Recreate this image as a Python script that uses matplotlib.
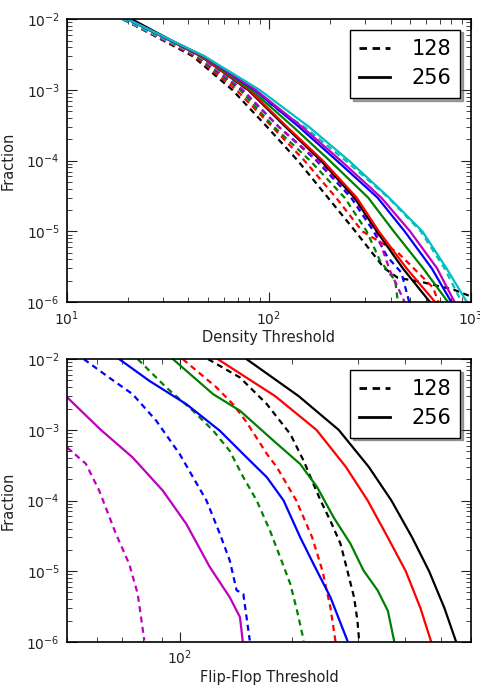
import numpy as np
import matplotlib
matplotlib.use("Agg")
import matplotlib.pyplot as plt

levels = [1e-2, 3e-3, 1e-3, 3e-4, 1e-4, 3e-5, 1e-5, 3e-6, 1e-6]

# --- Density threshold (top panel): (threshold values, fractions)
dens_128 = {
    'k': ([19, 42, 66, 98, 139, 196, 268, 373, 435, 580, 820, 1000, 1100],
          [1e-2, 3e-3, 1e-3, 3e-4, 1e-4, 3e-5, 1e-5, 3e-6, 2.2e-6, 1.9e-6, 1.5e-6, 1.2e-6, 1.1e-6]),
    'r': ([19, 43, 69, 104, 150, 215, 290, 435, 548, 650, 690],
          [1e-2, 3e-3, 1e-3, 3e-4, 1e-4, 3e-5, 1e-5, 5e-6, 2.6e-6, 1.6e-6, 1e-6]),
    'g': ([19, 44, 72, 106, 160, 237, 305, 354, 422, 435],
          [1e-2, 3e-3, 1e-3, 3e-4, 1e-4, 3e-5, 1e-5, 3.9e-6, 2e-6, 1e-6]),
    'b': ([19, 44.5, 74, 112, 172, 255, 330, 385, 453, 495],
          [1e-2, 3e-3, 1e-3, 3e-4, 1e-4, 3e-5, 1e-5, 4.4e-6, 2.6e-6, 1e-6]),
    'm': ([19, 44.5, 74, 112, 175, 262, 340, 397, 470],
          [1e-2, 3e-3, 1e-3, 3e-4, 1e-4, 3e-5, 1e-5, 2.8e-6, 1e-6]),
    'c': ([19, 45, 78, 150, 240, 390, 565, 740, 900], levels),
}
dens_256 = {
    'k': ([21, 46, 79, 121, 181, 265, 342, 460, 627], levels),
    'r': ([20, 46, 80, 123, 185, 272, 350, 480, 665], levels),
    'g': ([20, 47, 82, 132, 200, 310, 415, 580, 770], levels),
    'b': ([20, 47.5, 85, 141, 217, 345, 470, 640, 800], levels),
    'm': ([20, 47.5, 86, 146, 227, 360, 500, 680, 830], levels),
    'c': ([20, 48, 90, 158, 249, 393, 575, 757, 955], levels),
}

# --- Flip-Flop threshold (bottom panel): (threshold values, log10 fraction)
ff_128 = {
    'm': ([50.1, 56.2, 61.0, 67.6, 73.4, 77.3, 80.5],
          [-3.25, -3.48, -3.86, -4.47, -4.90, -5.32, -5.98]),
    'b': ([55.5, 64.8, 74.9, 86.6, 100, 108.6, 118, 128.1, 136.2, 142, 148, 154],
          [-2, -2.26, -2.495, -2.87, -3.34, -3.67, -4.0, -4.47, -4.85, -5.27, -5.32, -5.98]),
    'g': ([77.3, 92.1, 108.6, 122.9, 136.2, 148, 160.7, 174.5, 185.6, 197.6, 206, 214.6],
          [-2, -2.40, -2.73, -3.01, -3.30, -3.67, -4.0, -4.43, -4.80, -5.18, -5.56, -5.98]),
    'r': ([102, 125.5, 139, 150, 160, 171, 182, 205, 226, 241, 253, 261],
          [-2, -2.40, -2.64, -2.87, -3.10, -3.34, -3.53, -4.0, -4.52, -5.0, -5.52, -6.0]),
    'k': ([119.2, 145, 171, 197.6, 214.6, 228, 238, 253, 269, 280.6, 292.5, 298.6, 301.7],
          [-2, -2.26, -2.636, -3.06, -3.44, -3.77, -4.0, -4.29, -4.61, -4.99, -5.37, -5.70, -5.98]),
}
ff_256 = {
    'm': ([49.6, 61.6, 74.9, 90.2, 104.2, 120.4, 136.2, 145, 147.4],
          [-2.518, -3.0, -3.39, -3.86, -4.33, -4.94, -5.37, -5.65, -5.98]),
    'b': ([69, 83, 104.2, 128.1, 151, 171, 189.6, 210, 228, 253, 280.6],
          [-2, -2.306, -2.636, -3.013, -3.39, -3.67, -4.0, -4.52, -4.90, -5.37, -5.98]),
    'g': ([96, 122.9, 145, 178.3, 210, 233, 258, 286, 310, 338, 360, 374],
          [-2, -2.495, -2.73, -3.155, -3.484, -3.81, -4.24, -4.61, -4.99, -5.27, -5.56, -5.98]),
    'r': ([126.5, 180, 232, 278, 318, 360, 402, 440, 470],
          [-2, -2.523, -3, -3.523, -4, -4.523, -5, -5.523, -6]),
    'k': ([151, 208, 266, 320, 368, 418, 464, 510, 548],
          [-2, -2.523, -3, -3.523, -4, -4.523, -5, -5.523, -6]),
}

colors = {'k': 'black', 'r': 'red', 'g': (0, 0.5, 0), 'b': 'blue',
          'm': (0.75, 0, 0.75), 'c': (0, 0.75, 0.75)}

fig = plt.figure(figsize=(4.81, 6.88), dpi=100)
ax1 = fig.add_axes([0.139, 0.561, 0.840, 0.411])
ax2 = fig.add_axes([0.139, 0.067, 0.840, 0.411])

dash = (0, (2.7, 2.0))
lw = 1.6

for key, (xs, ys) in dens_128.items():
    ax1.plot(xs, ys, color=colors[key], ls=dash, lw=lw)
for key, (xs, ys) in dens_256.items():
    ax1.plot(xs, ys, color=colors[key], ls='-', lw=lw)

for key, (xs, ly) in ff_128.items():
    ax2.plot(xs, 10.0 ** np.array(ly), color=colors[key], ls=dash, lw=lw)
for key, (xs, ly) in ff_256.items():
    ax2.plot(xs, 10.0 ** np.array(ly), color=colors[key], ls='-', lw=lw)

ax1.set_xlim(10, 1000)
ax2.set_xlim(50, 600)
ax1.set_xlabel('Density Threshold', fontsize=10.5, labelpad=2, color='#222222')
ax2.set_xlabel('Flip-Flop Threshold', fontsize=10.5, labelpad=2, color='#222222')

for ax in (ax1, ax2):
    ax.set_xscale('log')
    ax.set_yscale('log')
    ax.set_ylim(1e-6, 1e-2)
    ax.set_ylabel('Fraction', fontsize=10.5, labelpad=8, color='#222222')
    ax.tick_params(which='both', direction='in', top=True, right=True,
                   labelsize=10, colors='#222222')
    ax.tick_params(which='major', length=7, pad=5)
    ax.tick_params(which='minor', length=3.5)
    for s in ax.spines.values():
        s.set_linewidth(1.2)
    ax.plot([], [], color='black', ls=dash, lw=2, label='128')
    ax.plot([], [], color='black', ls='-', lw=2, label='256')
    leg = ax.legend(loc='upper right', fontsize=15, shadow=True, fancybox=False,
                    handlelength=1.5, handletextpad=1.0, borderaxespad=0.5,
                    borderpad=0.45, labelspacing=0.45)
    leg.get_frame().set_edgecolor('black')
    leg.get_frame().set_linewidth(1.0)

fig.savefig('out.png', dpi=100, facecolor='white')
